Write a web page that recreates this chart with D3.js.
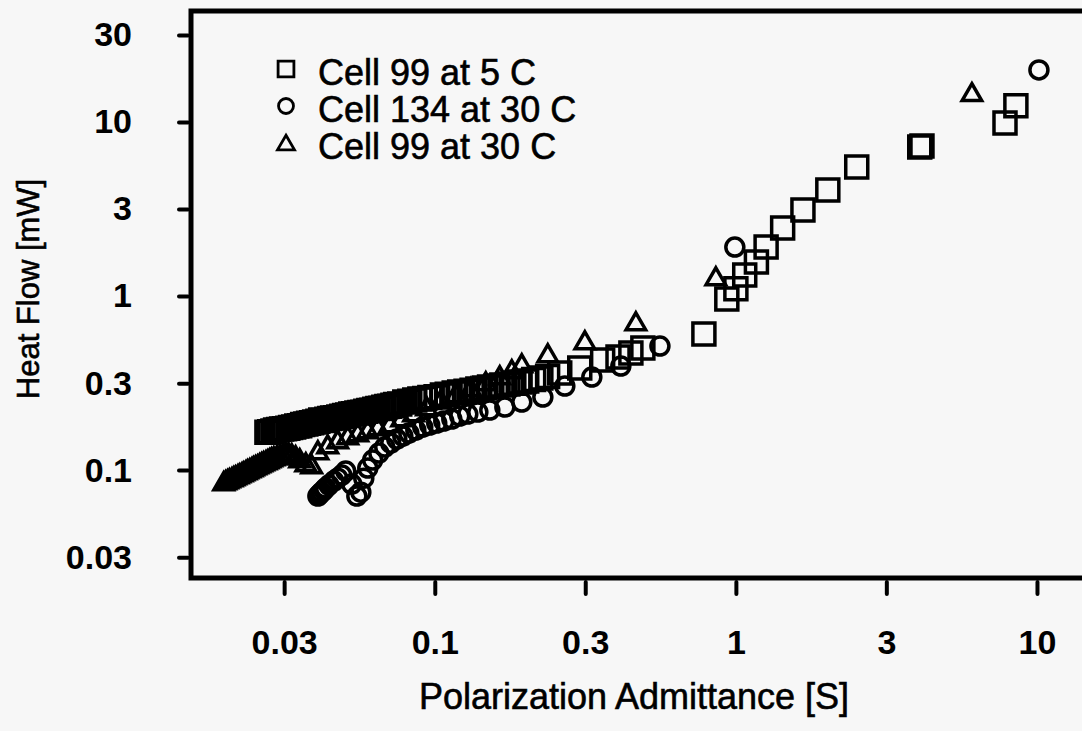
<!DOCTYPE html>
<html><head><meta charset="utf-8">
<script src="https://cdn.jsdelivr.net/npm/d3@7"></script>
<style>body{margin:0;background:#f7f7f7;} svg{display:block;}</style>
</head><body>
<svg id="chart" width="1082" height="731"></svg>
<script>
// ---- tick values (half-decade ticks) and their printed labels ----
const xTickValues = [0.0316, 0.1, 0.316, 1, 3.16, 10];
const xTickLabels = ["0.03", "0.1", "0.3", "1", "3", "10"];
const yTickValues = [0.0316, 0.1, 0.316, 1, 3.16, 10, 31.6];
const yTickLabels = ["0.03", "0.1", "0.3", "1", "3", "10", "30"];

// ---- series names ----
const seriesNames = ["Cell 99 at 5 C", "Cell 134 at 30 C", "Cell 99 at 30 C"];

// ---- Cell 99 at 5 C (squares) ----
const sqX = [0.0277,0.0283,0.0290,0.0296,0.0303,0.0310,0.0317,0.0325,0.0332,0.0340,0.0348,0.0356,0.0364,0.0373,0.0381,0.0390,0.0399,0.0409,0.0418,0.0428,0.0438,0.0448,0.0458,0.0469,0.0480,0.0491,0.0502,0.0514,0.0526,0.0538,0.0551,0.0564,0.0577,0.0590,0.0604,0.0618,0.0632,0.0647,0.0662,0.0677,0.0693,0.0709,0.0726,0.0742,0.0765,
  0.0795,0.0826,0.0858,0.0892,0.0926,0.0963,0.101,0.106,0.110,0.116,0.121,0.127,0.133,0.139,0.146,0.152,0.160,0.167,0.175,0.183,0.192,0.202,0.213,0.225,0.237,
  0.260,0.303,0.361,0.406,0.448,0.491,
  0.783,0.933,1.00,1.07,1.17,1.26,1.43,1.67,2.02,2.52,4.08,4.15,7.83,8.51];
const sqY = [0.165,0.166,0.168,0.170,0.171,0.172,0.173,0.174,0.176,0.177,0.179,0.180,0.183,0.184,0.186,0.187,0.189,0.191,0.194,0.193,0.196,0.198,0.199,0.200,0.202,0.204,0.206,0.207,0.210,0.211,0.213,0.214,0.215,0.218,0.220,0.221,0.224,0.226,0.227,0.230,0.232,0.233,0.236,0.238,0.240,
  0.246,0.249,0.253,0.256,0.258,0.261,0.264,0.270,0.273,0.277,0.281,0.284,0.288,0.292,0.296,0.300,0.304,0.308,0.312,0.316,0.321,0.325,0.331,0.338,0.345,
  0.361,0.386,0.429,0.446,0.470,0.503,
  0.605,0.961,1.10,1.32,1.57,1.91,2.46,3.12,4.07,5.51,7.18,7.28,9.87,12.4];

// ---- Cell 134 at 30 C (circles) ----
const ciX = [0.0409,0.0415,0.0421,0.0428,0.0434,0.0445,0.0462,0.0476,0.0491,0.0506,
  0.0530,0.0551,0.0568,0.0581,0.0599,0.0622,0.0652,0.0682,0.0714,0.0748,0.0783,0.0820,0.0865,0.0912,0.0962,0.1015,0.1071,0.1139,0.1210,0.1287,0.1390,0.1523,0.1709,0.1945,0.2285,0.2703,0.3323,0.4149,0.5594,0.992,10.15];
const ciY = [0.0709,0.0728,0.0747,0.0768,0.0788,0.0820,0.0865,0.0899,0.0936,0.0987,
  0.0831,0.0709,0.0747,0.0899,0.1027,0.1142,0.1253,0.1356,0.1429,0.1508,0.1568,0.1632,0.1698,0.1767,0.1814,0.1862,0.1912,0.1963,0.2043,0.2098,0.2154,0.2212,0.2302,0.2459,0.2627,0.3040,0.3424,0.3960,0.5160,1.912,19.9];

// ---- Cell 99 at 30 C (triangles) ----
const trX = [0.0199,0.0202,0.0205,0.0208,0.0212,0.0215,0.0218,0.0222,0.0225,0.0229,0.0232,0.0236,0.0239,0.0243,0.0247,0.0250,0.0254,0.0258,0.0262,0.0266,0.0270,0.0275,0.0279,0.0283,0.0287,0.0292,0.0299,0.0306,0.0313,0.0320,0.0327,0.0335,0.0345,
  0.0356,0.0373,0.0390,0.0409,0.0441,0.0476,0.0514,0.0555,0.0599,0.0647,0.0709,0.0777,0.0851,0.0940,0.1047,0.1174,0.1317,0.1477,0.1644,0.1802,0.1945,0.2373,0.3151,0.4654,0.858,6.08];
const trY = [0.0831,0.0842,0.0853,0.0865,0.0876,0.0888,0.0899,0.0912,0.0923,0.0936,0.0948,0.0961,0.0974,0.0987,0.1000,0.1013,0.1027,0.1040,0.1054,0.1068,0.1083,0.1097,0.1112,0.1127,0.1142,0.1157,0.1172,0.1188,0.1204,0.1220,0.1220,0.1204,0.1172,
  0.1127,0.1068,0.1040,0.1253,0.1356,0.1448,0.1528,0.1589,0.1654,0.1720,0.1790,0.1938,0.2070,0.2241,0.2459,0.2662,0.2883,0.3121,0.3379,0.3658,0.3960,0.4520,0.5370,0.6903,1.252,14.3];

const W = 1082, H = 731;
const FONT = "'Liberation Sans', Arial, sans-serif";
const svg = d3.select('#chart');
svg.append('rect').attr('width', W).attr('height', H).attr('fill', '#f7f7f7');

const x = d3.scaleLog().domain([0.0155, 15]).range([191, 1090]);
const y = d3.scaleLog().domain([0.024, 43.4]).range([578, 11]);

// frame
svg.append('rect')
  .attr('x', x.range()[0]).attr('y', y.range()[1])
  .attr('width', x.range()[1] - x.range()[0])
  .attr('height', y.range()[0] - y.range()[1])
  .attr('fill', 'none').attr('stroke', '#000').attr('stroke-width', 5);

// x axis
const gx = svg.append('g').attr('transform', 'translate(0,582)')
  .call(d3.axisBottom(x).tickValues(xTickValues).tickFormat((d, i) => xTickLabels[i]).tickSize(12).tickPadding(36));
gx.select('.domain').remove();
gx.selectAll('.tick line').attr('stroke', '#000').attr('stroke-width', 4).attr('stroke-linecap', 'round');
gx.selectAll('.tick text').attr('font-family', FONT).attr('font-weight', 'bold').attr('font-size', 34).attr('fill', '#000');

// y axis
const gy = svg.append('g').attr('transform', 'translate(188,0)')
  .call(d3.axisLeft(y).tickValues(yTickValues).tickFormat((d, i) => yTickLabels[i]).tickSize(9).tickPadding(47));
gy.select('.domain').remove();
gy.selectAll('.tick line').attr('stroke', '#000').attr('stroke-width', 4).attr('stroke-linecap', 'round');
gy.selectAll('.tick text').attr('font-family', FONT).attr('font-weight', 'bold').attr('font-size', 34).attr('fill', '#000');

// axis titles
svg.append('text').attr('x', 634).attr('y', 709).attr('text-anchor', 'middle')
  .attr('font-family', FONT).attr('font-size', 36).attr('fill', '#000')
  .attr('stroke', '#000').attr('stroke-width', 0.6)
  .text('Polarization Admittance [S]');
svg.append('text').attr('transform', 'translate(39,289) rotate(-90)').attr('text-anchor', 'middle')
  .attr('font-family', FONT).attr('font-size', 31).attr('fill', '#000')
  .attr('stroke', '#000').attr('stroke-width', 0.6)
  .text('Heat Flow [mW]');

// markers
const symSquare = d3.symbol().type(d3.symbolSquare).size(484);
const symCircle = d3.symbol().type(d3.symbolCircle).size(Math.PI * 81);
const symTri = d3.symbol().type(d3.symbolTriangle).size(165);

function drawSeries(xs, ys, sym, cls) {
  svg.append('g').selectAll('path.' + cls)
    .data(xs.map((v, i) => [v, ys[i]]))
    .join('path').attr('class', cls)
    .attr('transform', d => `translate(${x(d[0])},${y(d[1])})`)
    .attr('d', sym)
    .attr('fill', 'none').attr('stroke', '#000').attr('stroke-width', 3.5);
}
drawSeries(trX, trY, symTri, 'tri');
drawSeries(ciX, ciY, symCircle, 'cir');
drawSeries(sqX, sqY, symSquare, 'sq');

// legend
const legSyms = [
  d3.symbol().type(d3.symbolSquare).size(250),
  d3.symbol().type(d3.symbolCircle).size(Math.PI * 56),
  d3.symbol().type(d3.symbolTriangle).size(125)
];
const leg = svg.append('g');
seriesNames.forEach((name, i) => {
  const base = 85 + i * 37;
  leg.append('path').attr('transform', `translate(286,${base - 16 + (i === 2 ? 2 : 0)})`)
    .attr('d', legSyms[i]).attr('fill', 'none').attr('stroke', '#000').attr('stroke-width', 2.8);
  leg.append('text').attr('x', 318).attr('y', base)
    .attr('font-family', FONT).attr('font-size', 36).attr('fill', '#000')
    .attr('stroke', '#000').attr('stroke-width', 0.6).text(name);
});
</script>
</body></html>
